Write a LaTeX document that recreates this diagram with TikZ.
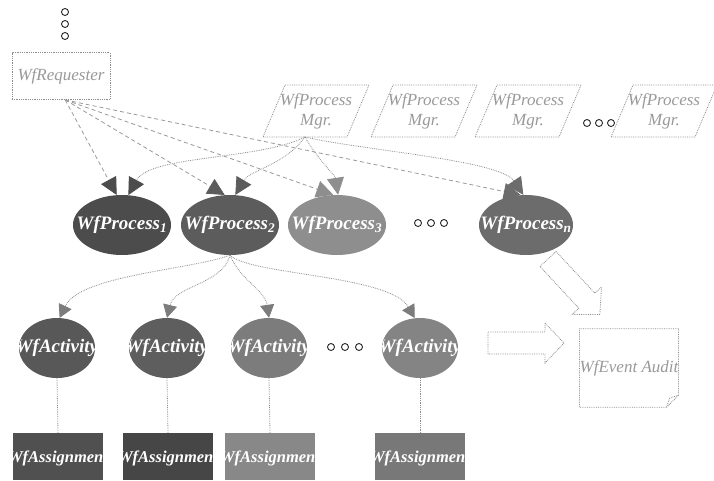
\documentclass[tikz,border=0pt]{standalone}
\usepackage{fontspec}
\setmainfont{Liberation Serif}
\usetikzlibrary{shapes.geometric,arrows.meta,calc}
\definecolor{pa}{HTML}{4C4C4C}
\definecolor{pb}{HTML}{5C5C5C}
\definecolor{pc}{HTML}{8E8E8E}
\definecolor{pd}{HTML}{6C6C6C}
\definecolor{aa}{HTML}{585858}
\definecolor{ab}{HTML}{5E5E5E}
\definecolor{ac}{HTML}{7C7C7C}
\definecolor{ad}{HTML}{848484}
\definecolor{sa}{HTML}{505050}
\definecolor{sb}{HTML}{464646}
\definecolor{sc}{HTML}{888888}
\definecolor{sd}{HTML}{787878}
\tikzset{
 outl/.style={draw=black!45, densely dotted, line width=0.8pt},
 ltext/.style={text=black!40, font=\fontsize{17}{20}\selectfont\itshape},
 wtext/.style={text=white, font=\fontsize{19}{20}\selectfont\bfseries\itshape},
 stext/.style={text=white, font=\fontsize{16.5}{20}\selectfont\bfseries\itshape},
 proc/.style={ellipse, minimum width=98pt, minimum height=60pt, inner sep=0pt,
   path picture={\node[wtext] at (path picture bounding box.center) {#1};}},
 act/.style={ellipse, minimum width=76pt, minimum height=60pt, inner sep=0pt,
   path picture={\node[wtext] at (path picture bounding box.center) {#1};}},
 asg/.style={rectangle, minimum width=90pt, minimum height=47pt, inner sep=0pt,
   path picture={\node[stext] at ([yshift=-2pt]path picture bounding box.center) {#1};}},
 dotc/.style={circle, draw=black!85, line width=0.9pt, minimum size=7pt, inner sep=0pt},
 reqline/.style={draw=black!40, dash pattern=on 4pt off 3pt, line width=0.8pt},
 mgrline/.style={draw=black!45, densely dotted, line width=0.8pt},
 bighead/.style={-{Triangle[length=17pt,width=17pt,color=#1]}},
 smallhead/.style={-{Triangle[length=13pt,width=14pt,color=#1]}},
}
\newcommand\mgrbox[3]{%
 \node[ltext, align=center, minimum width=84pt, minimum height=52pt, inner sep=0pt] (#1) at (#2,#3) {WfProcess\\Mgr.};
 \draw[outl] ($(#1.center)+(-31,-26)$) -- ($(#1.center)+(53,-26)$) -- ($(#1.center)+(31,26)$) -- ($(#1.center)+(-53,26)$) -- cycle;}
\begin{document}
\begin{tikzpicture}[x=1pt,y=-1pt]
\useasboundingbox (0,0) rectangle (714,480);
% vertical dots
\node[dotc] (v1) at (65,12) {};
\node[dotc] (v2) at (65,24) {};
\node[dotc] (v3) at (65,36) {};
% requester
\node[ltext, draw=black!45, densely dotted, line width=0.8pt, minimum width=98pt, minimum height=47pt, inner sep=0pt] (req) at (61,76) {WfRequester};
% managers
\mgrbox{m1}{316}{111}
\mgrbox{m2}{424}{111}
\mgrbox{m3}{528}{111}
\mgrbox{m4}{664}{111}
\coordinate (m1b) at ($(m1.center)+(-11,26)$);
\node[dotc] (md1) at (587,123) {};
\node[dotc] (md2) at (599,123) {};
\node[dotc] (md3) at (611,123) {};
% processes
\node[proc={WfProcess\textsubscript{1}}, fill=pa] (e1) at (122,225) {};
\node[proc={WfProcess\textsubscript{2}}, fill=pb] (e2) at (230,225) {};
\node[proc={WfProcess\textsubscript{3}}, fill=pc] (e3) at (337,225) {};
\node[proc={WfProcess\textsubscript{n}}, fill=pd, minimum width=94pt] (e4) at (526,225) {};
\node[dotc] (pd1) at (418,223) {};
\node[dotc] (pd2) at (431,223) {};
\node[dotc] (pd3) at (444,223) {};
% activities
\node[act={WfActivity}, fill=aa] (a1) at (57,348) {};
\node[act={WfActivity}, fill=ab] (a2) at (167,348) {};
\node[act={WfActivity}, fill=ac] (a3) at (269,348) {};
\node[act={WfActivity}, fill=ad] (a4) at (420,348) {};
\node[dotc] (ad1) at (331,347) {};
\node[dotc] (ad2) at (345,347) {};
\node[dotc] (ad3) at (359,347) {};
% assignments
\node[asg={WfAssignment}, fill=sa] (s1) at (58,456.5) {};
\node[asg={WfAssignment}, fill=sb] (s2) at (168,456.5) {};
\node[asg={WfAssignment}, fill=sc] (s3) at (270,456.5) {};
\node[asg={WfAssignment}, fill=sd] (s4) at (420,456.5) {};
% event audit
\node[ltext, minimum width=98pt, minimum height=78pt, inner sep=0pt] (ev) at (629,368) {WfEvent Audit};
\draw[outl] (ev.north west) -- (ev.north east) -- ($(ev.south east)+(0,-12)$) -- ($(ev.south east)+(-12,0)$) -- (ev.south west) -- cycle;
\draw[outl] ($(ev.south east)+(-12,0)$) -- ($(ev.south east)+(-9,-9)$) -- ($(ev.south east)+(0,-12)$);
% hollow arrows
\coordinate (h0) at (488,343);
\draw[outl, shift={(h0)}] (0,-11) -- (57,-11) -- (57,-20) -- (76,0) -- (57,20) -- (57,11) -- (0,11) -- cycle;
\coordinate (d0) at (548,259);
\draw[outl, shift={(d0)}, rotate=-47] (0,-11) -- (57,-11) -- (57,-20) -- (76,0) -- (57,20) -- (57,11) -- (0,11) -- cycle;
% requester connectors
\draw[reqline, bighead=pa] (req.-80) -- (e1.100);
\draw[reqline, bighead=pb] (req.-80) -- (e2.100);
\draw[reqline, bighead=pc] (req.-80) -- (e3.97);
\draw[reqline, bighead=pd] (req.-80) -- (e4.100);
% manager connectors
\draw[mgrline, bighead=pa] (m1b) .. controls (260,160) and (150,155) .. (e1.78);
\draw[mgrline, bighead=pb] (m1b) .. controls (285,165) and (250,170) .. (e2.80);
\draw[mgrline, bighead=pc] (m1b) .. controls (318,160) and (335,175) .. (e3.88);
\draw[mgrline, bighead=pd] (m1b) .. controls (360,150) and (500,160) .. (e4.95);
% process -> activities
\draw[mgrline, smallhead=ac] (e2.south) .. controls (190,270) and (80,275) .. (a1.85);
\draw[mgrline, smallhead=ac] (e2.south) .. controls (222,285) and (175,285) .. (a2.north);
\draw[mgrline, smallhead=ac] (e2.south) .. controls (240,280) and (265,290) .. (a3.north);
\draw[mgrline, smallhead=ac] (e2.south) .. controls (250,275) and (390,275) .. (a4.100);
% activities -> assignments
\draw[mgrline] (a1.south) -- (s1.north);
\draw[mgrline] (a2.south) -- (s2.north);
\draw[mgrline] (a3.south) -- (s3.north);
\draw[mgrline] (a4.south) -- (s4.north);
\end{tikzpicture}
\end{document}
